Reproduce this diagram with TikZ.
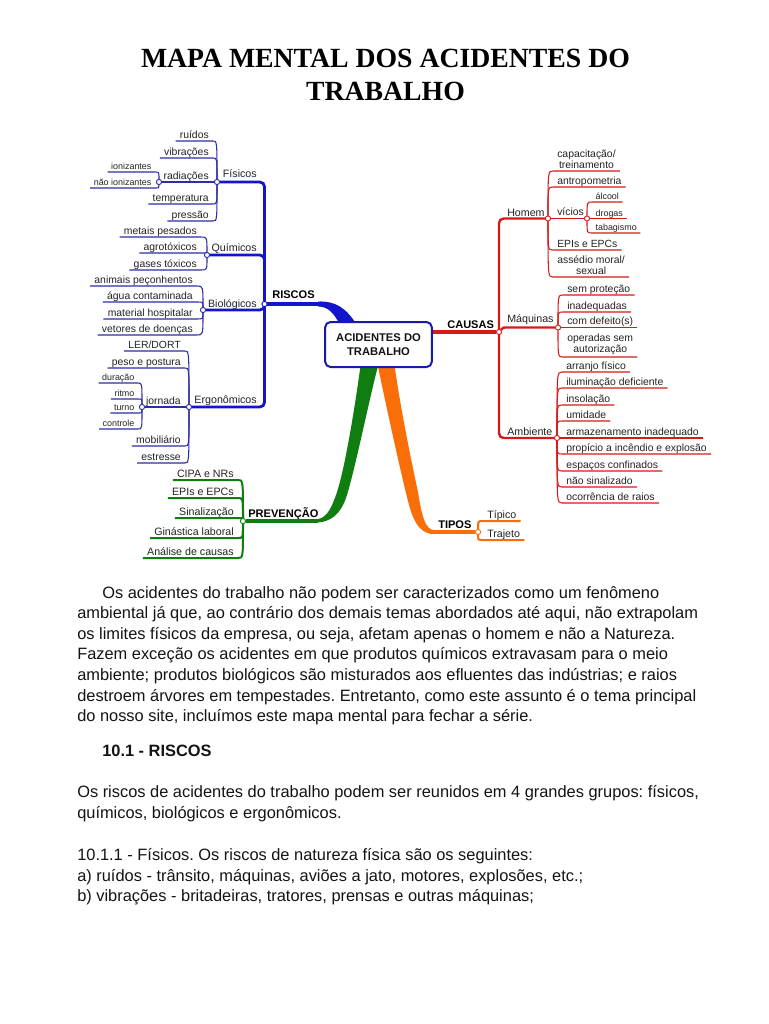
\documentclass[tikz,border=0pt]{standalone}
\usepackage{fontspec}
\setmainfont{Liberation Sans}
\newfontfamily\titlefont{Liberation Serif}
\frenchspacing
\definecolor{cb}{RGB}{20,20,205}
\definecolor{cbl}{RGB}{45,45,165}
\definecolor{cbox}{RGB}{25,25,170}
\definecolor{cr}{RGB}{215,25,25}
\definecolor{cg}{RGB}{15,125,15}
\definecolor{co}{RGB}{250,110,10}
\definecolor{txt}{RGB}{35,35,35}
\definecolor{txtb}{RGB}{20,20,20}
\newcommand\leafL[3][]{\draw[#1] (#2) .. controls (#2 |- #3.south east) .. (#3.south east) -- (#3.south west);}
\newcommand\leafR[3][]{\draw[#1] (#2) .. controls (#2 |- #3.south west) .. (#3.south west) -- (#3.south east);}
\tikzset{
 lf/.style={font=\fontsize{7.8}{8.4}\selectfont, text=txt, inner xsep=3pt, inner ysep=1.8pt, text depth=0pt},
 sf/.style={font=\fontsize{6.7}{8}\selectfont, text=txt, inner xsep=2.5pt, inner ysep=1.6pt, text depth=0pt},
 mf/.style={font=\fontsize{7.8}{8.3}\selectfont, text=txt, inner xsep=3pt, inner ysep=1.8pt, align=center},
 pf/.style={font=\fontsize{8}{9}\selectfont, text=txt, inner xsep=3pt, inner ysep=2pt, text depth=0pt},
 lab/.style={font=\fontsize{8}{9}\selectfont, text=txt, inner sep=0pt},
 blab/.style={font=\bfseries\fontsize{8.3}{9}\selectfont, text=black, inner sep=0pt, anchor=base west},
 jc/.style={circle, draw=#1, fill=white, line width=0.6pt, inner sep=0pt, minimum size=3.8pt},
 bthin/.style={draw=cbl, line width=0.8pt},
 rthin/.style={draw=cr, line width=0.8pt},
 gthin/.style={draw=cg, line width=1.5pt},
 othin/.style={draw=co, line width=1.5pt},
 body/.style={font=\fontsize{12.3}{15}\selectfont, text=txtb, inner sep=0pt, anchor=base west},
 ttl/.style={font=\titlefont\bfseries\fontsize{20.8}{24}\selectfont, text=black, inner sep=0pt, anchor=base}
}
\begin{document}
\begin{tikzpicture}[x=0.75pt,y=-0.75pt]
\fill[white] (0,0) rectangle (768,1024);
\useasboundingbox (0,0) rectangle (768,1024);

% title
\node[ttl] (t1) at (385.5,68) {MAPA MENTAL DOS ACIDENTES DO};
\node[ttl] (t2) at (385.5,100) {TRABALHO};

% thick tapered branches
\fill[cb] (318,301.5) .. controls (336,301) and (346,308) .. (357,325) -- (340,325) .. controls (334,313) and (328,306.5) .. (318,306.5) -- cycle;
\fill[cg] (361,362) .. controls (356,400) and (345,470) .. (336,495) .. controls (330,512) and (325,519.5) .. (314,519.5) -- (314,522.5) .. controls (331,523) and (341,514) .. (347,495) .. controls (356,465) and (369,400) .. (379,362) -- cycle;
\fill[co] (377,362) .. controls (386,405) and (399,465) .. (407,497) .. controls (412,518) and (418,534) .. (434,534) -- (434,530) .. controls (426,530) and (422,518) .. (418,492) .. controls (410,455) and (400,405) .. (394,362) -- cycle;

% junction circles
\node[jc=cb] (riscosC) at (264.5,304) {};
\node[jc=cbl] (fisC) at (217,182) {};
\node[jc=cbl] (quiC) at (207,255) {};
\node[jc=cbl] (bioC) at (203,310) {};
\node[jc=cbl] (ergC) at (189,407) {};
\node[jc=cbl] (radC) at (159,182) {};
\node[jc=cbl] (jornC) at (142,407) {};
\node[jc=cg] (prevC) at (243,521) {};
\node[jc=cr] (causasC) at (499,332) {};
\node[jc=cr] (homemC) at (548,218.5) {};
\node[jc=cr] (vicC) at (587,218.5) {};
\node[jc=cr] (maqC) at (558,327.5) {};
\node[jc=cr] (ambC) at (557,438) {};
\node[jc=co] (tiposC) at (478,532) {};
\coordinate (riscJ) at (322,304);
\coordinate (prevJ) at (318,521);
\coordinate (tiposJ) at (430,532);

% central box
\node[draw=cbox, line width=1.5pt, rounded corners=4pt, fill=white, minimum width=80pt, minimum height=33.75pt, align=center, font=\bfseries\fontsize{8.4}{10.5}\selectfont, text=txtb] (acid) at (378.5,344.5) {ACIDENTES DO\\TRABALHO};

% main labels
\node[blab] (riscosL) at (272,298) {RISCOS};
\node[blab] (causasL) at (447,328) {CAUSAS};
\node[blab] (prevL) at (248,517) {PREVENÇÃO};
\node[blab] (tiposL) at (438,528) {TIPOS};
\node[lab, anchor=base east] (fisL) at (257,177) {Físicos};
\node[lab, anchor=base east] (quiL) at (257,251) {Químicos};
\node[lab, anchor=base east] (bioL) at (257,307) {Biológicos};
\node[lab, anchor=base east] (ergL) at (257,403) {Ergonômicos};
\node[lab, anchor=base west] (homemL) at (507,216) {Homem};
\node[lab, anchor=base west] (maqL) at (507,322) {Máquinas};
\node[lab, anchor=base west] (ambL) at (507,435) {Ambiente};

% thick connectors
\begin{scope}[cb, line width=2.1pt, rounded corners=3.5pt]
\draw (riscosC) |- (fisC);
\draw (riscosC) |- (quiC);
\draw (riscosC) |- (bioC);
\draw (riscosC) |- (ergC);
\end{scope}
\draw[cb, line width=3pt] (riscosC) -- (riscJ);
\begin{scope}[cr, line width=1.8pt, rounded corners=3.5pt]
\draw (causasC) |- (homemC);
\draw (causasC) |- (ambC);
\draw (causasC) .. controls (503,327.5) .. (512,327.5) -- (maqC);
\end{scope}
\draw[cr, line width=2.3pt] (acid.east |- causasC) -- (causasC);
\draw[cg, line width=2.3pt] (prevC) -- (prevJ);
\draw[co, line width=3pt] (tiposJ) -- (tiposC);

% ---- RISCOS leaves
\node[lf, anchor=south east] (ruidos) at (213,141) {ruídos};
\node[lf, anchor=south east] (vibr) at (213,158) {vibrações};
\node[lf, anchor=south east] (radi) at (213,182) {radiações};
\node[lf, anchor=south east] (temp) at (213,204) {temperatura};
\node[lf, anchor=south east] (press) at (213,221) {pressão};
\node[sf, anchor=south east] (ioniz) at (155,172) {ionizantes};
\node[sf, anchor=south east] (nioniz) at (155,188) {não ionizantes};
\leafL[bthin]{fisC}{ruidos}
\leafL[bthin]{fisC}{vibr}
\draw[bthin] (fisC) -- (radi.south east) -- (radC);
\leafL[bthin]{fisC}{temp}
\leafL[bthin]{fisC}{press}
\leafL[bthin]{radC}{ioniz}
\leafL[bthin]{radC}{nioniz}

\node[lf, anchor=south east] (metais) at (201,237) {metais pesados};
\node[lf, anchor=south east] (agro) at (201,253) {agrotóxicos};
\node[lf, anchor=south east] (gases) at (201,270) {gases tóxicos};
\leafL[bthin]{quiC}{metais}
\leafL[bthin]{quiC}{agro}
\leafL[bthin]{quiC}{gases}

\node[lf, anchor=south east] (animais) at (197,286) {animais peçonhentos};
\node[lf, anchor=south east] (agua) at (197,302) {água contaminada};
\node[lf, anchor=south east] (material) at (197,319) {material hospitalar};
\node[lf, anchor=south east] (vetores) at (197,335) {vetores de doenças};
\leafL[bthin]{bioC}{animais}
\leafL[bthin]{bioC}{agua}
\leafL[bthin]{bioC}{material}
\leafL[bthin]{bioC}{vetores}

\node[lf, anchor=south east] (ler) at (185,351) {LER/DORT};
\node[lf, anchor=south east] (peso) at (185,368) {peso e postura};
\node[lf, anchor=south east] (jorn) at (185,407) {jornada};
\node[lf, anchor=south east] (mobil) at (185,446) {mobiliário};
\node[lf, anchor=south east] (estr) at (185,463) {estresse};
\leafL[bthin]{ergC}{ler}
\leafL[bthin]{ergC}{peso}
\draw[bthin] (ergC) -- (jorn.south east) -- (jornC);
\leafL[bthin]{ergC}{mobil}
\leafL[bthin]{ergC}{estr}
\node[sf, anchor=south east] (durac) at (138,383) {duração};
\node[sf, anchor=south east] (ritmo) at (138,399) {ritmo};
\node[sf, anchor=south east] (turno) at (138,413) {turno};
\node[sf, anchor=south east] (contr) at (138,429) {controle};
\leafL[bthin]{jornC}{durac}
\leafL[bthin]{jornC}{ritmo}
\leafL[bthin]{jornC}{turno}
\leafL[bthin]{jornC}{contr}

% ---- PREVENCAO leaves
\node[pf, anchor=south east] (cipa) at (238,480) {CIPA e NRs};
\node[pf, anchor=south east] (epis) at (238,498) {EPIs e EPCs};
\node[pf, anchor=south east] (sinal) at (238,518) {Sinalização};
\node[pf, anchor=south east] (gin) at (238,538) {Ginástica laboral};
\node[pf, anchor=south east] (anal) at (238,558) {Análise de causas};
\leafL[gthin]{prevC}{cipa}
\leafL[gthin]{prevC}{epis}
\leafL[gthin]{prevC}{sinal}
\leafL[gthin]{prevC}{gin}
\leafL[gthin]{prevC}{anal}

% ---- CAUSAS leaves
\node[mf, anchor=south west] (capac) at (553,171) {capacitação/\\treinamento};
\node[lf, anchor=south west] (antro) at (553,187) {antropometria};
\node[lf, anchor=south west] (vicios) at (553,218.5) {vícios};
\node[lf, anchor=south west] (epi2) at (553,250) {EPIs e EPCs};
\node[mf, anchor=south west] (assed) at (553,277) {assédio moral/\\sexual};
\leafR[rthin]{homemC}{capac}
\leafR[rthin]{homemC}{antro}
\draw[rthin] (homemC) -- (vicios.south west) -- (vicC);
\leafR[rthin]{homemC}{epi2}
\leafR[rthin]{homemC}{assed}
\node[sf, anchor=south west] (alcool) at (592,202) {álcool};
\node[sf, anchor=south west] (drogas) at (592,218.5) {drogas};
\node[sf, anchor=south west] (tabag) at (592,233) {tabagismo};
\leafR[rthin]{vicC}{alcool}
\draw[rthin] (vicC) -- (drogas.south west) -- (drogas.south east);
\leafR[rthin]{vicC}{tabag}

\node[lf, anchor=south west] (semp) at (563,295) {sem proteção};
\node[lf, anchor=south west] (inad) at (563,312) {inadequadas};
\node[lf, anchor=south west] (comd) at (563,327.5) {com defeito(s)};
\node[mf, anchor=south west] (oper) at (563,357) {operadas sem\\autorização};
\leafR[rthin]{maqC}{semp}
\leafR[rthin]{maqC}{inad}
\draw[rthin] (maqC) -- (comd.south west) -- (comd.south east);
\leafR[rthin]{maqC}{oper}

\node[lf, anchor=south west] (arr) at (562,372) {arranjo físico};
\node[lf, anchor=south west] (ilum) at (562,388) {iluminação deficiente};
\node[lf, anchor=south west] (insol) at (562,405) {insolação};
\node[lf, anchor=south west] (umid) at (562,421) {umidade};
\node[lf, anchor=south west] (armaz) at (562,438) {armazenamento inadequado};
\node[lf, anchor=south west] (prop) at (562,454) {propício a incêndio e explosão};
\node[lf, anchor=south west] (espac) at (562,471) {espaços confinados};
\node[lf, anchor=south west] (naos) at (562,487) {não sinalizado};
\node[lf, anchor=south west] (ocorr) at (562,503) {ocorrência de raios};
\leafR[rthin]{ambC}{arr}
\leafR[rthin]{ambC}{ilum}
\leafR[rthin]{ambC}{insol}
\leafR[rthin]{ambC}{umid}
\draw[rthin] (ambC) -- (armaz.south west) -- (armaz.south east);
\leafR[rthin]{ambC}{prop}
\leafR[rthin]{ambC}{espac}
\leafR[rthin]{ambC}{naos}
\leafR[rthin]{ambC}{ocorr}

% ---- TIPOS leaves
\node[pf, anchor=south west] (tipico) at (483,521) {Típico};
\node[pf, anchor=south west] (trajeto) at (483,540) {Trajeto};
\leafR[othin]{tiposC}{tipico}
\leafR[othin]{tiposC}{trajeto}

% redraw circles on top
\foreach \c/\k in {riscosC/cb,fisC/cbl,quiC/cbl,bioC/cbl,ergC/cbl,radC/cbl,jornC/cbl,prevC/cg,causasC/cr,homemC/cr,vicC/cr,maqC/cr,ambC/cr,tiposC/co}
  \draw[\k, fill=white, line width=0.6pt] (\c) circle[radius=1.9pt];

% body text
\node[body] (p1) at (102,598) {Os acidentes do trabalho não podem ser caracterizados como um fenômeno};
\node[body] (p2) at (77,618.6) {ambiental já que, ao contrário dos demais temas abordados até aqui, não extrapolam};
\node[body] (p3) at (77,639.2) {os limites físicos da empresa, ou seja, afetam apenas o homem e não a Natureza.};
\node[body] (p4) at (77,659.8) {Fazem exceção os acidentes em que produtos químicos extravasam para o meio};
\node[body] (p5) at (77,680.4) {ambiente; produtos biológicos são misturados aos efluentes das indústrias; e raios};
\node[body] (p6) at (77,701) {destroem árvores em tempestades. Entretanto, como este assunto é o tema principal};
\node[body] (p7) at (77,721.6) {do nosso site, incluímos este mapa mental para fechar a série.};
\node[body, font=\bfseries\fontsize{12.3}{15}\selectfont] (h1) at (102,756) {10.1 - RISCOS};
\node[body] (q1) at (77,797) {Os riscos de acidentes do trabalho podem ser reunidos em 4 grandes grupos: físicos,};
\node[body] (q2) at (77,818) {químicos, biológicos e ergonômicos.};
\node[body] (r1) at (77,860) {10.1.1 - Físicos. Os riscos de natureza física são os seguintes:};
\node[body] (r2) at (77,881) {a) ruídos - trânsito, máquinas, aviões a jato, motores, explosões, etc.;};
\node[body] (r3) at (77,901) {b) vibrações - britadeiras, tratores, prensas e outras máquinas;};
\end{tikzpicture}
\end{document}
